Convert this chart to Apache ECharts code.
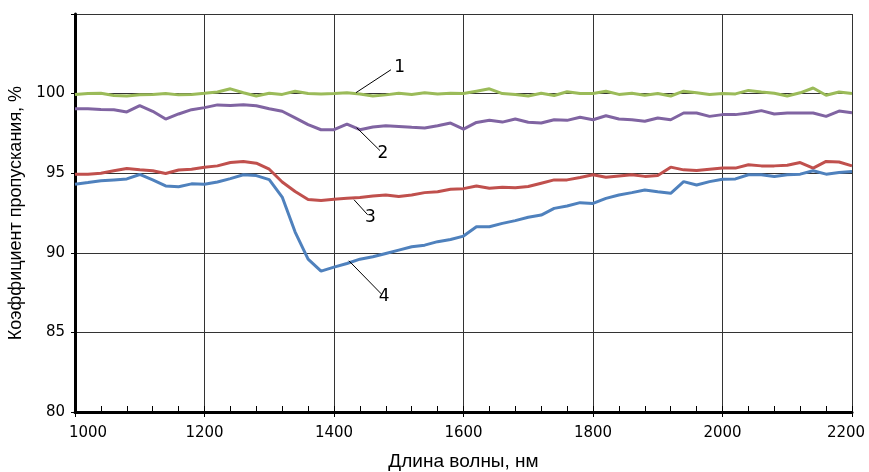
<!DOCTYPE html>
<html>
<head>
<meta charset="utf-8">
<script src="https://cdn.jsdelivr.net/npm/echarts@6/dist/echarts.min.js"></script>
<style>
  html, body { margin: 0; padding: 0; background: #fff; }
  #chart { width: 869px; height: 472px; }
</style>
</head>
<body>
<div id="chart"></div>
<script>
// длина волны, нм
const wavelength = [];
for (let w = 1000; w <= 2200; w += 20) wavelength.push(w);

// кривая 1
const curve1 = [
  99.95, 100.0, 100.02, 99.88, 99.85, 99.93, 99.95, 100.0, 99.92, 99.95,
  100.02, 100.1, 100.3, 100.05, 99.85, 100.02, 99.95, 100.15, 100.0, 99.98,
  100.0, 100.05, 99.98, 99.85, 99.92, 100.02, 99.95, 100.05, 99.98, 100.02,
  100.0, 100.15, 100.3, 100.0, 99.95, 99.85, 100.02, 99.88, 100.12, 100.0,
  100.0, 100.15, 99.95, 100.02, 99.9, 100.0, 99.85, 100.15, 100.05, 99.95,
  100.0, 99.98, 100.2, 100.1, 100.02, 99.85, 100.05, 100.35, 99.9, 100.1, 100.0
];
// кривая 2
const curve2 = [
  99.05, 99.05, 99.0, 98.99, 98.85, 99.24, 98.89, 98.4, 98.72, 98.99,
  99.12, 99.29, 99.25, 99.3, 99.24, 99.05, 98.89, 98.47, 98.05, 97.73,
  97.73, 98.09, 97.73, 97.9, 97.98, 97.94, 97.88, 97.84, 97.98, 98.15,
  97.77, 98.19, 98.32, 98.21, 98.4, 98.2, 98.15, 98.36, 98.32, 98.51,
  98.36, 98.61, 98.4, 98.36, 98.26, 98.47, 98.36, 98.78, 98.78, 98.57,
  98.68, 98.68, 98.78, 98.93, 98.72, 98.78, 98.78, 98.78, 98.57, 98.9, 98.8
];
// кривая 3
const curve3 = [
  94.94, 94.94, 95.0, 95.15, 95.3, 95.22, 95.15, 94.98, 95.2, 95.25,
  95.38, 95.46, 95.67, 95.74, 95.63, 95.25, 94.45, 93.85, 93.35, 93.28,
  93.36, 93.42, 93.47, 93.57, 93.63, 93.53, 93.63, 93.78, 93.84, 93.99,
  94.03, 94.2, 94.05, 94.12, 94.08, 94.16, 94.37, 94.58, 94.58, 94.73,
  94.9, 94.75, 94.83, 94.9, 94.8, 94.85, 95.38, 95.21, 95.17, 95.25,
  95.32, 95.32, 95.53, 95.46, 95.46, 95.5, 95.67, 95.32, 95.74, 95.7, 95.46
];
// кривая 4
const curve4 = [
  94.31, 94.41, 94.52, 94.58, 94.64, 94.92, 94.58, 94.2, 94.15, 94.33,
  94.31, 94.45, 94.66, 94.9, 94.85, 94.6, 93.5, 91.3, 89.6, 88.85,
  89.1, 89.33, 89.6, 89.75, 89.96, 90.17, 90.38, 90.48, 90.7, 90.84,
  91.05, 91.64, 91.64, 91.85, 92.02, 92.23, 92.37, 92.79, 92.94, 93.15,
  93.1, 93.42, 93.63, 93.78, 93.95, 93.84, 93.74, 94.47, 94.26, 94.47,
  94.62, 94.64, 94.9, 94.9, 94.79, 94.9, 94.94, 95.15, 94.94, 95.04, 95.1
];

// выноски: номер, начало (на кривой), конец
const callouts = [
  ['1', [1434, 100.06], [1488, 101.5]],
  ['2', [1435, 97.86], [1471, 96.42]],
  ['3', [1431, 93.33], [1452, 92.39]],
  ['4', [1423, 89.5], [1473, 87.42]]
];

const colors = ['#9BBB59', '#8064A2', '#C0504D', '#4F81BD'];
const curves = [curve1, curve2, curve3, curve4];

let myChart = echarts.init(document.getElementById('chart'));

const series = curves.map((c, i) => ({
  type: 'line',
  data: wavelength.map((w, k) => [w, c[k]]),
  showSymbol: false,
  smooth: false,
  lineStyle: { color: colors[i], width: 3 },
  itemStyle: { color: colors[i] },
  z: 3,
  markLine: {
    silent: true,
    symbol: 'none',
    animation: false,
    lineStyle: { color: '#000', width: 1, type: 'solid' },
    label: {
      show: true,
      position: 'end',
      distance: 4,
      formatter: callouts[i][0],
      color: '#000',
      fontFamily: 'DejaVu Sans',
      fontSize: 17
    },
    data: [[{ coord: callouts[i][1] }, { coord: callouts[i][2] }]]
  }
}));

const tickFont = { color: '#000', fontFamily: 'DejaVu Sans', fontSize: 15 };

myChart.setOption({
  animation: false,
  backgroundColor: '#fff',
  grid: { left: 75, right: 17, top: 14, bottom: 60, outerBoundsMode: 'none', containLabel: false },
  xAxis: [{
    type: 'value',
    min: 1000, max: 2200, interval: 200,
    name: 'Длина волны, нм',
    nameLocation: 'middle',
    nameGap: 40,
    nameTextStyle: { fontFamily: 'Liberation Sans', fontSize: 19, color: '#000' },
    axisLine: { show: true, lineStyle: { color: '#000', width: 3 } },
    axisTick: { show: true, length: 5, lineStyle: { color: '#000', width: 1 } },
    axisLabel: {
      color: '#000', fontFamily: 'DejaVu Sans', fontSize: 15, margin: 14,
      formatter: v => v === 1000 ? '{first|' + v + '}' : v === 2200 ? '{last|' + v + '}' : String(v),
      rich: {
        first: Object.assign({ padding: [0, 0, 0, 26] }, tickFont),
        last: Object.assign({ padding: [0, 12, 0, 0] }, tickFont)
      }
    },
    splitLine: { show: true, lineStyle: { color: '#333', width: 1 } }
  }, {
    // мелкие деления внутрь
    type: 'value',
    position: 'bottom',
    min: 1000, max: 2200, interval: 40,
    axisLine: { show: false },
    axisTick: { show: true, inside: true, length: 6, lineStyle: { color: '#000', width: 1 } },
    axisLabel: { show: false },
    splitLine: { show: false }
  }],
  yAxis: {
    type: 'value',
    min: 80, max: 105, interval: 5,
    name: 'Коэффициент пропускания, %',
    nameLocation: 'middle',
    nameGap: 48,
    nameTextStyle: { fontFamily: 'Liberation Sans', fontSize: 18, color: '#000' },
    axisLine: { show: true, lineStyle: { color: '#000', width: 3 } },
    axisTick: { show: true, length: 4, lineStyle: { color: '#000', width: 1 } },
    axisLabel: {
      color: '#000', fontFamily: 'DejaVu Sans', fontSize: 15, margin: 10,
      formatter: v => (v === 105 ? '' : String(v))
    },
    splitLine: { show: true, lineStyle: { color: '#333', width: 1 } }
  },
  series: series
});
</script>
</body>
</html>
